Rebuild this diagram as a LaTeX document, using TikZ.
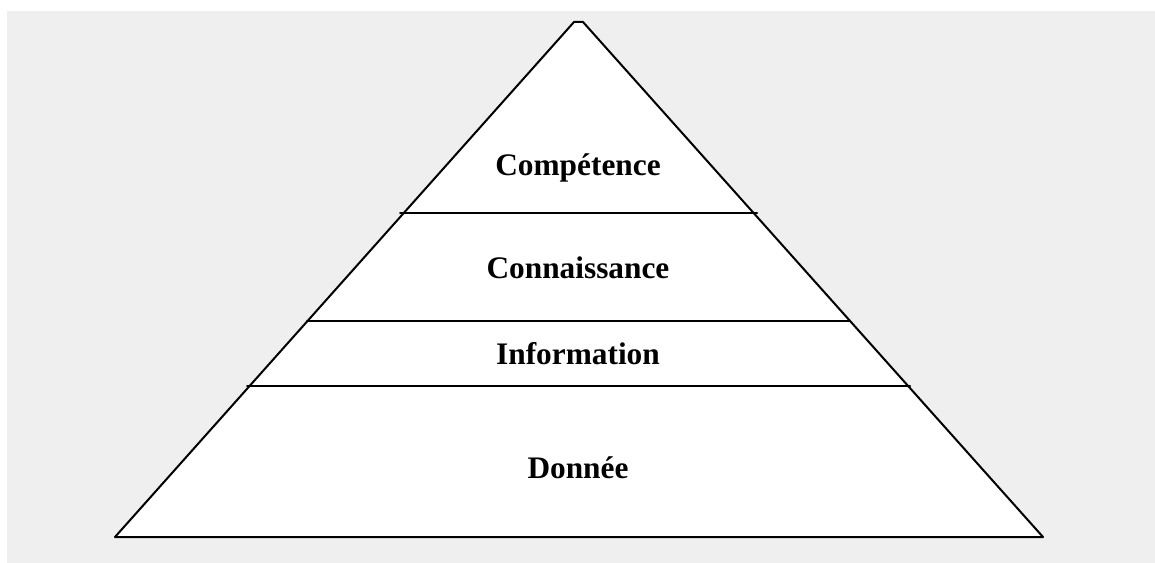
\documentclass[tikz,border=0pt]{standalone}
\usepackage{fontspec}
\setmainfont{Liberation Serif}
\usetikzlibrary{calc}
\definecolor{bggray}{RGB}{239,239,239}

\begin{document}
\begin{tikzpicture}[x=0.75pt,y=-0.75pt,line width=1.5pt,
  layer/.style={font=\fontsize{23.5}{28}\selectfont\bfseries,inner sep=0pt},
  cut/.style={draw,line cap=round}]
\useasboundingbox (0,0) rectangle (1155,563);
\fill[bggray] (7,11) rectangle (1155,563);
\coordinate (topl) at (574,22);
\coordinate (topr) at (583,22);
\coordinate (basel) at (115,537);
\coordinate (baser) at (1043,537);
\filldraw[fill=white,line join=round] (basel) -- (topl) -- (topr) -- (baser) -- cycle;
\draw[cut] (400,213) coordinate (c1) -- (757,213) coordinate (c2);
\draw[cut] (307,321) coordinate (k1) -- (850,321) coordinate (k2);
\draw[cut] (247,386) coordinate (i1) -- (910,386) coordinate (i2);
\node[layer] (comp) at (578,168) {Compétence};
\node[layer] (conn) at (578,268) {Connaissance};
\node[layer] (info) at (578,354) {Information};
\node[layer] (donn) at (578,468) {Donnée};
\end{tikzpicture}
\end{document}
